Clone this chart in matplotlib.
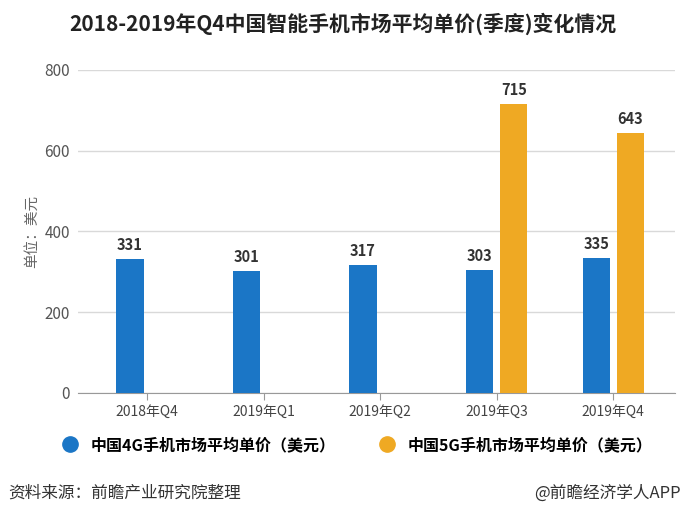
import numpy as np
import matplotlib
matplotlib.use('Agg')
import matplotlib.pyplot as plt
from matplotlib.lines import Line2D

plt.rcParams['font.family'] = ['Noto Sans CJK SC', 'DejaVu Sans']

# data
quarters = ['2018年Q4', '2019年Q1', '2019年Q2', '2019年Q3', '2019年Q4']
price_4g = [331, 301, 317, 303, 335]
price_5g = [None, None, None, 715, 643]
series_names = ['中国4G手机市场平均单价（美元）', '中国5G手机市场平均单价（美元）']
yticks = [0, 200, 400, 600, 800]

c4g = '#1B76C6'
c5g = '#EFA923'

fig = plt.figure(figsize=(6.86, 5.21), dpi=100)
ax = fig.add_axes([0.114, 0.246, 0.870, 0.620])

x = np.arange(len(quarters))
w = 0.235
off = 0.146

ax.bar(x - off, price_4g, width=w, color=c4g, zorder=3)
for xi, v in zip(x, price_4g):
    ax.text(xi - off, v + 15, str(v), ha='center', va='bottom',
            fontsize=10.5, fontweight='bold', color='#333333')

x5 = [xi for xi, v in zip(x, price_5g) if v is not None]
v5 = [v for v in price_5g if v is not None]
ax.bar(np.array(x5) + off, v5, width=w, color=c5g, zorder=3)
for xi, v in zip(x5, v5):
    ax.text(xi + off, v + 15, str(v), ha='center', va='bottom',
            fontsize=10.5, fontweight='bold', color='#333333')

ax.set_xlim(-0.59, 4.53)
ax.set_ylim(0, 800)
ax.set_yticks(yticks)
ax.set_xticks(x)
ax.set_xticklabels(quarters)
ax.grid(axis='y', color='#d9d9d9', linewidth=1, zorder=0)
for s in ['top', 'right', 'left']:
    ax.spines[s].set_visible(False)
ax.spines['bottom'].set_color('#999999')
ax.tick_params(axis='y', length=0, labelsize=11, colors='#555555', pad=6)
ax.tick_params(axis='x', length=5, color='#999999', labelsize=10,
               labelcolor='#444444', pad=4)
ax.set_ylabel('单位：美元', fontsize=10.5, color='#666666', labelpad=4)

fig.suptitle('2018-2019年Q4中国智能手机市场平均单价(季度)变化情况',
             x=0.5, y=0.975, fontsize=15, fontweight='bold', color='#222222')

handles = [Line2D([], [], marker='o', linestyle='', markersize=11, color=c4g),
           Line2D([], [], marker='o', linestyle='', markersize=11, color=c5g)]
fig.legend(handles, series_names, loc='center', bbox_to_anchor=(0.515, 0.146),
           ncol=2, frameon=False, handletextpad=0.3,
           columnspacing=2.2, prop={'weight': 'bold', 'size': 11.5})

fig.text(0.012, 0.053, '资料来源：前瞻产业研究院整理', fontsize=12,
         color='#333333', ha='left', va='center')
fig.text(0.992, 0.053, '@前瞻经济学人APP', fontsize=12,
         color='#333333', ha='right', va='center')

fig.savefig('out.png', dpi=100)
